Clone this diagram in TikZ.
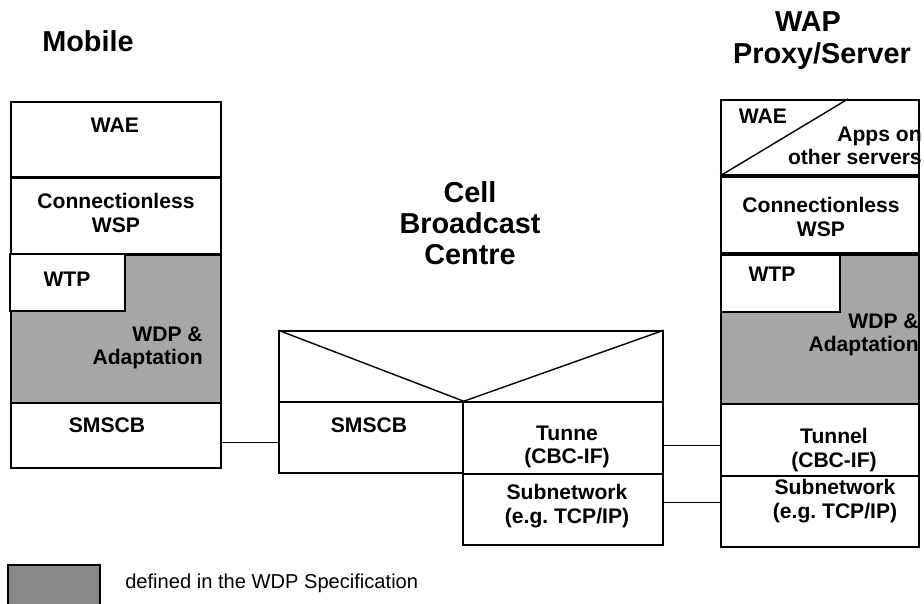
\documentclass[tikz,border=0pt]{standalone}
\usepackage{fontspec}
\setmainfont{Liberation Sans}
\usepackage{xcolor}
\usepackage{tikz}
\usetikzlibrary{fit}

\definecolor{wdpgray}{HTML}{A6A6A6}
\definecolor{keygray}{HTML}{888888}

\tikzset{
  layer/.style={draw, line width=1.1pt, fill=white, inner sep=0pt},
  wdplayer/.style={layer, fill=wdpgray},
  link/.style={line width=1pt},
  lbl/.style={font=\bfseries\fontsize{15}{16.5}\selectfont, align=center, inner sep=0pt},
  heading/.style={font=\bfseries\fontsize{20.5}{22}\selectfont, align=center, inner sep=0pt},
}
\frenchspacing

\begin{document}
\begin{tikzpicture}[x=0.025cm,y=-0.025cm]
\useasboundingbox (0,0) rectangle (924,603);

% headings
\node[heading] (mobile) at (88,41) {Mobile};
\node[heading] (cbc) at (470,223) {Cell\\Broadcast\\Centre};
\node[heading] (wap) at (808,22) {WAP};
\node[heading] (proxy) at (822,56) {Proxy/Server};

% mobile stack
\node[layer, fit={(11,102) (221,177)}] (mwae) {};
\node[layer, fit={(11,178) (221,254)}] (mwsp) {};
\node[wdplayer, fit={(11,255) (221,403)}] (mwdp) {};
\node[layer, fit={(10,254) (125,311)}] (mwtp) {};
\node[layer, fit={(11,403) (221,468)}] (msmscb) {};
\node[lbl] (mwaet) at (115,125) {WAE};
\node[lbl] (mwspt) at (116,213) {Connectionless\\WSP};
\node[lbl] (mwtpt) at (67,279) {WTP};
\node[lbl, align=right, anchor=east] (mwdpt) at (203,348) {WDP \&\\Adaptation};
\node[lbl] (msmscbt) at (107,425) {SMSCB};

% cell broadcast centre
\node[layer, fit={(279,331) (663,402)}] (ctop) {};
\node[layer, fit={(279,402) (463,473)}] (csmscb) {};
\node[layer, fit={(463,402) (663,474)}] (ctun) {};
\node[layer, fit={(463,474) (663,545)}] (csub) {};
\draw[link] (ctop.north west) -- (csmscb.north east) -- (ctop.north east);
\node[lbl] (csmscbt) at (369,425) {SMSCB};
\node[lbl] (ctunt) at (567,447) {Tunne\\(CBC-IF)};
\node[lbl] (csubt) at (567,506) {Subnetwork\\(e.g. TCP/IP)};

% wap proxy/server stack
\node[layer, fit={(721,100) (919,175)}] (wwae) {};
\node[layer, fit={(721,177) (919,253)}] (wwsp) {};
\node[wdplayer, fit={(721,255) (919,404)}] (wwdp) {};
\node[layer, fit={(721,255) (840,312)}] (wwtp) {};
\node[layer, fit={(721,404) (919,476)}] (wtun) {};
\node[layer, fit={(721,476) (919,547)}] (wsub) {};
\coordinate (wcut) at (848,99);
\draw[link] (wwae.south west) -- (wcut);
\node[lbl] (wwaet) at (763,116) {WAE};
\node[lbl, align=right, anchor=east] (wappt) at (922,146) {Apps on\\other servers};
\node[lbl] (wwspt) at (821,217) {Connectionless\\WSP};
\node[lbl] (wwtpt) at (772,274) {WTP};
\node[lbl, align=right, anchor=east] (wwdpt) at (919,335) {WDP \&\\Adaptation};
\node[lbl] (wtunt) at (834,450) {Tunnel\\(CBC-IF)};
\node[lbl] (wsubt) at (835,501) {Subnetwork\\(e.g. TCP/IP)};

% links
\draw[link] ([yshift=-5pt]msmscb.east) -- ([yshift=-5pt]msmscb.east -| csmscb.west);
\draw[link] ([yshift=-5.5pt]ctun.east) -- ([yshift=-5.5pt]ctun.east -| wtun.west);
\draw[link] ([yshift=5pt]csub.east) -- ([yshift=5pt]csub.east -| wsub.west);

% key
\node[layer, fill=keygray, fit={(8,565) (100,607)}] (key) {};
\node[anchor=base west, inner sep=0pt, font=\fontsize{14.3}{16}\selectfont] (keytext) at (125,588) {defined in the WDP Specification};
\end{tikzpicture}
\end{document}
